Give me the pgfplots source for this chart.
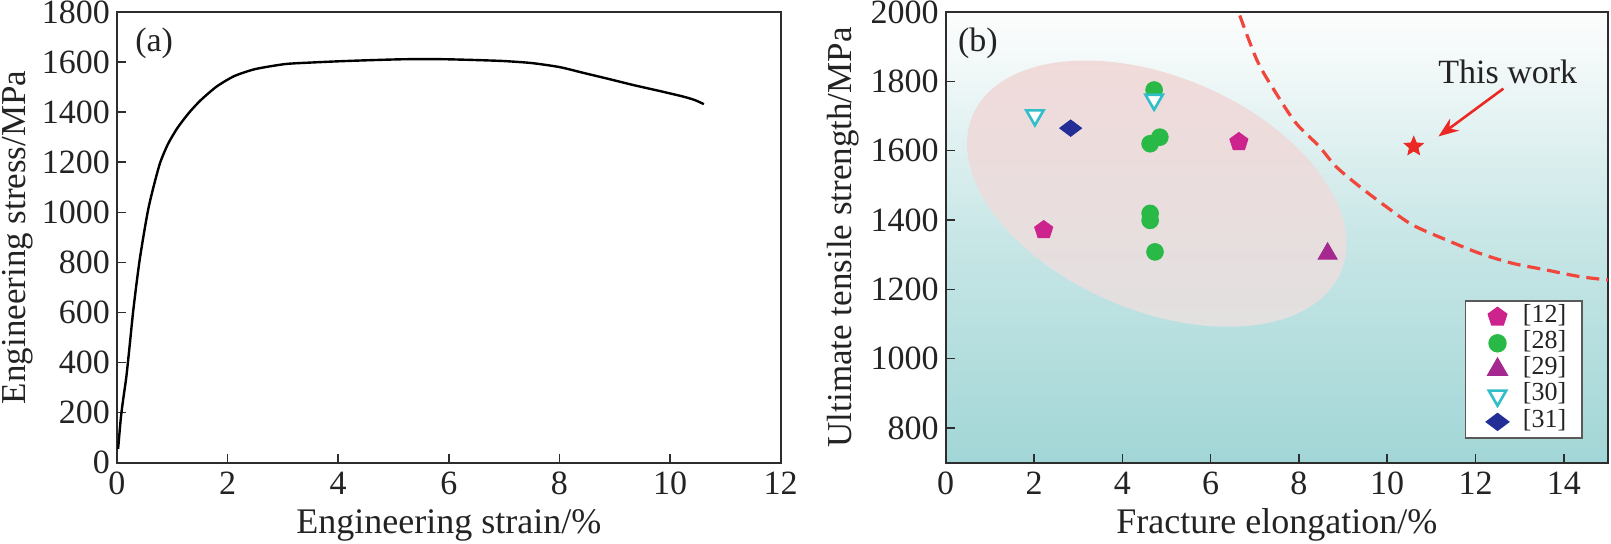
\documentclass[border=0pt]{standalone}
\usepackage{fontspec}
\setmainfont{Liberation Serif}
\usepackage{pgfplots}
\pgfplotsset{compat=1.18}
\usetikzlibrary{arrows.meta,plotmarks}
\definecolor{axc}{RGB}{45,45,45}
\definecolor{txc}{RGB}{35,35,35}
\definecolor{cmag}{RGB}{205,35,140}
\definecolor{cgreen}{RGB}{40,185,70}
\definecolor{cpur}{RGB}{165,40,145}
\definecolor{ccyan}{RGB}{50,190,200}
\definecolor{cnavy}{RGB}{35,45,150}
\definecolor{cred}{RGB}{235,40,35}
\definecolor{cdash}{RGB}{240,70,60}
\definecolor{tb}{RGB}{162,214,214}
\definecolor{tm}{RGB}{200,230,230}
\definecolor{tl}{RGB}{244,249,249}
\definecolor{tw}{RGB}{252,253,253}
\definecolor{elT}{RGB}{242,218,218}
\definecolor{elB}{RGB}{226,224,224}
\pgfdeclareverticalshading{bshade}{100bp}{color(0bp)=(tb); color(25bp)=(tb); color(50bp)=(tm); color(70bp)=(tl); color(75bp)=(tw); color(100bp)=(tw)}
\pgfdeclareplotmark{fstar}{%
  \pgfpathmoveto{\pgfpointpolar{90}{\pgfplotmarksize}}%
  \pgfpathlineto{\pgfpointpolar{126}{0.45\pgfplotmarksize}}%
  \pgfpathlineto{\pgfpointpolar{162}{\pgfplotmarksize}}%
  \pgfpathlineto{\pgfpointpolar{198}{0.45\pgfplotmarksize}}%
  \pgfpathlineto{\pgfpointpolar{234}{\pgfplotmarksize}}%
  \pgfpathlineto{\pgfpointpolar{270}{0.45\pgfplotmarksize}}%
  \pgfpathlineto{\pgfpointpolar{306}{\pgfplotmarksize}}%
  \pgfpathlineto{\pgfpointpolar{342}{0.45\pgfplotmarksize}}%
  \pgfpathlineto{\pgfpointpolar{18}{\pgfplotmarksize}}%
  \pgfpathlineto{\pgfpointpolar{54}{0.45\pgfplotmarksize}}%
  \pgfpathclose\pgfusepathqfillstroke}
\pgfplotsset{
  mystyle/.style={
    scale only axis,
    anchor=south west,
    height=225.35pt,
    axis line style={axc, line width=0.9pt},
    tick style={axc, line width=0.8pt},
    tick align=inside,
    xtick pos=bottom, ytick pos=left,
    major tick length=4.5pt,
    /pgf/number format/assume math mode=true,
    /pgf/number format/1000 sep={},
    tick label style={font=\fontsize{17}{17}\selectfont, text=txc},
    xticklabel style={yshift=-1pt},
    label style={font=\fontsize{18}{18}\selectfont, text=txc},
    xlabel style={at={(axis description cs:0.5,-0.1575)}, anchor=base},
  }
}
\begin{document}
\begin{tikzpicture}
\useasboundingbox (0,0) rectangle (805.5pt,272pt);
% ---------------- (a) ----------------
\begin{axis}[mystyle,
  at={(58.5pt,40.65pt)}, width=331.85pt,
  xmin=0, xmax=12, ymin=0, ymax=1800,
  xtick={0,2,...,12}, ytick={0,200,...,1800},
  xlabel={Engineering strain/\%},
  ylabel={Engineering stress/MPa},
  ylabel style={at={(axis description cs:-0.1386,0.5)}, anchor=base, font=\fontsize{17.5}{17.5}\selectfont},
]
\addplot[black, line width=1.2pt, smooth, tension=0.4] coordinates {
(0.02,55) (0.07,180) (0.11,250) (0.17,345) (0.23,470) (0.29,600) (0.35,710) (0.41,810)
(0.49,920) (0.57,1018) (0.67,1110) (0.78,1198) (0.92,1272) (1.09,1336) (1.3,1397)
(1.51,1447) (1.8,1502) (2.12,1544) (2.5,1572) (3.04,1592) (3.5,1598) (4.0,1603)
(4.5,1607) (5.12,1611) (5.6,1612) (6.0,1611) (6.5,1608) (7.0,1604) (7.5,1596)
(8.0,1580) (8.43,1557) (8.9,1532) (9.34,1508) (9.8,1485) (10.24,1462) (10.45,1448) (10.61,1432)};
\node[anchor=north west, inner sep=0pt, font=\fontsize{17}{17}\selectfont, text=txc] at (rel axis cs:0.027,0.965) {(a)};
\end{axis}
% ---------------- (b) ----------------
\begin{axis}[mystyle,
  at={(472.85pt,40.65pt)}, width=331.15pt,
  xmin=0, xmax=15, ymin=700, ymax=2000,
  xtick={0,2,...,14}, ytick={800,1000,...,2000},
  xlabel={Fracture elongation/\%},
  ylabel={Ultimate tensile strength/MPa},
  ylabel style={at={(axis description cs:-0.1415,0.5)}, anchor=base, font=\fontsize{17.5}{17.5}\selectfont},
  axis background/.style={shade, shading=bshade},
  legend style={at={(0.9623,0.361)}, anchor=north east, draw=black!65, line width=0.8pt,
    fill=white, inner xsep=8pt, inner ysep=1.6pt, font=\fontsize{13}{13}\selectfont, text=txc,
    nodes={inner sep=0pt, text height=9.2pt, text depth=3.9pt},
    /tikz/every odd column/.style={column sep=6.7pt}},
  legend cell align=left,
  legend image code/.code={\path[draw=none] (-8pt,-1pt) rectangle (6pt,1pt); \draw[#1] plot coordinates {(0pt,0pt)};},
]
\shade[top color=elT, bottom color=elB, rotate around={-23:(axis cs:4.78,1476)}]
  (axis cs:4.78,1476) ellipse [x radius=100pt, y radius=58.5pt];
\addplot[cdash, line width=1.6pt, dash pattern=on 6.5pt off 3.5pt, smooth, tension=0.5, forget plot] coordinates {
(6.66,1990) (7.06,1858) (7.48,1766) (7.93,1680) (8.46,1612) (8.84,1554) (9.37,1497)
(9.97,1439) (10.57,1386) (11.33,1343) (12.09,1304) (12.84,1275) (13.6,1256) (14.35,1237) (15,1227)};
\addplot[only marks, mark=fstar, mark size=5pt, color=cred, forget plot] coordinates {(10.6,1612)};
\draw[cred, line width=1.3pt, -{Stealth[length=10pt,width=7.5pt]}] (axis cs:12.63,1779) -- (axis cs:11.16,1641);
\node[anchor=base, inner sep=0pt, font=\fontsize{17}{17}\selectfont, text=txc] at (axis cs:12.73,1793) {This work};
\node[anchor=north west, inner sep=0pt, font=\fontsize{17}{17}\selectfont, text=txc] at (rel axis cs:0.018,0.965) {(b)};
\addplot[only marks, mark=pentagon*, mark size=4.8pt, color=cmag] coordinates {(2.22,1371) (6.64,1625)};
\addlegendentry{{[12]}}
\addplot[only marks, mark=*, mark size=4.2pt, color=cgreen] coordinates {(4.72,1775) (4.63,1620) (4.85,1639) (4.63,1419) (4.63,1399) (4.74,1308)};
\addlegendentry{{[28]}}
\addplot[only marks, mark=triangle*, mark size=5.5pt, color=cpur] coordinates {(8.65,1303)};
\addlegendentry{{[29]}}
\addplot[only marks, mark=triangle*, mark size=5pt, color=ccyan, mark options={rotate=180, fill=white, draw=ccyan, line width=1.3pt}] coordinates {(2.02,1702) (4.72,1747)};
\addlegendentry{{[30]}}
\addplot[only marks, mark=diamond*, mark size=5.5pt, color=cnavy, mark options={rotate=90}] coordinates {(2.83,1665)};
\addlegendentry{{[31]}}
\end{axis}
\end{tikzpicture}
\end{document}
